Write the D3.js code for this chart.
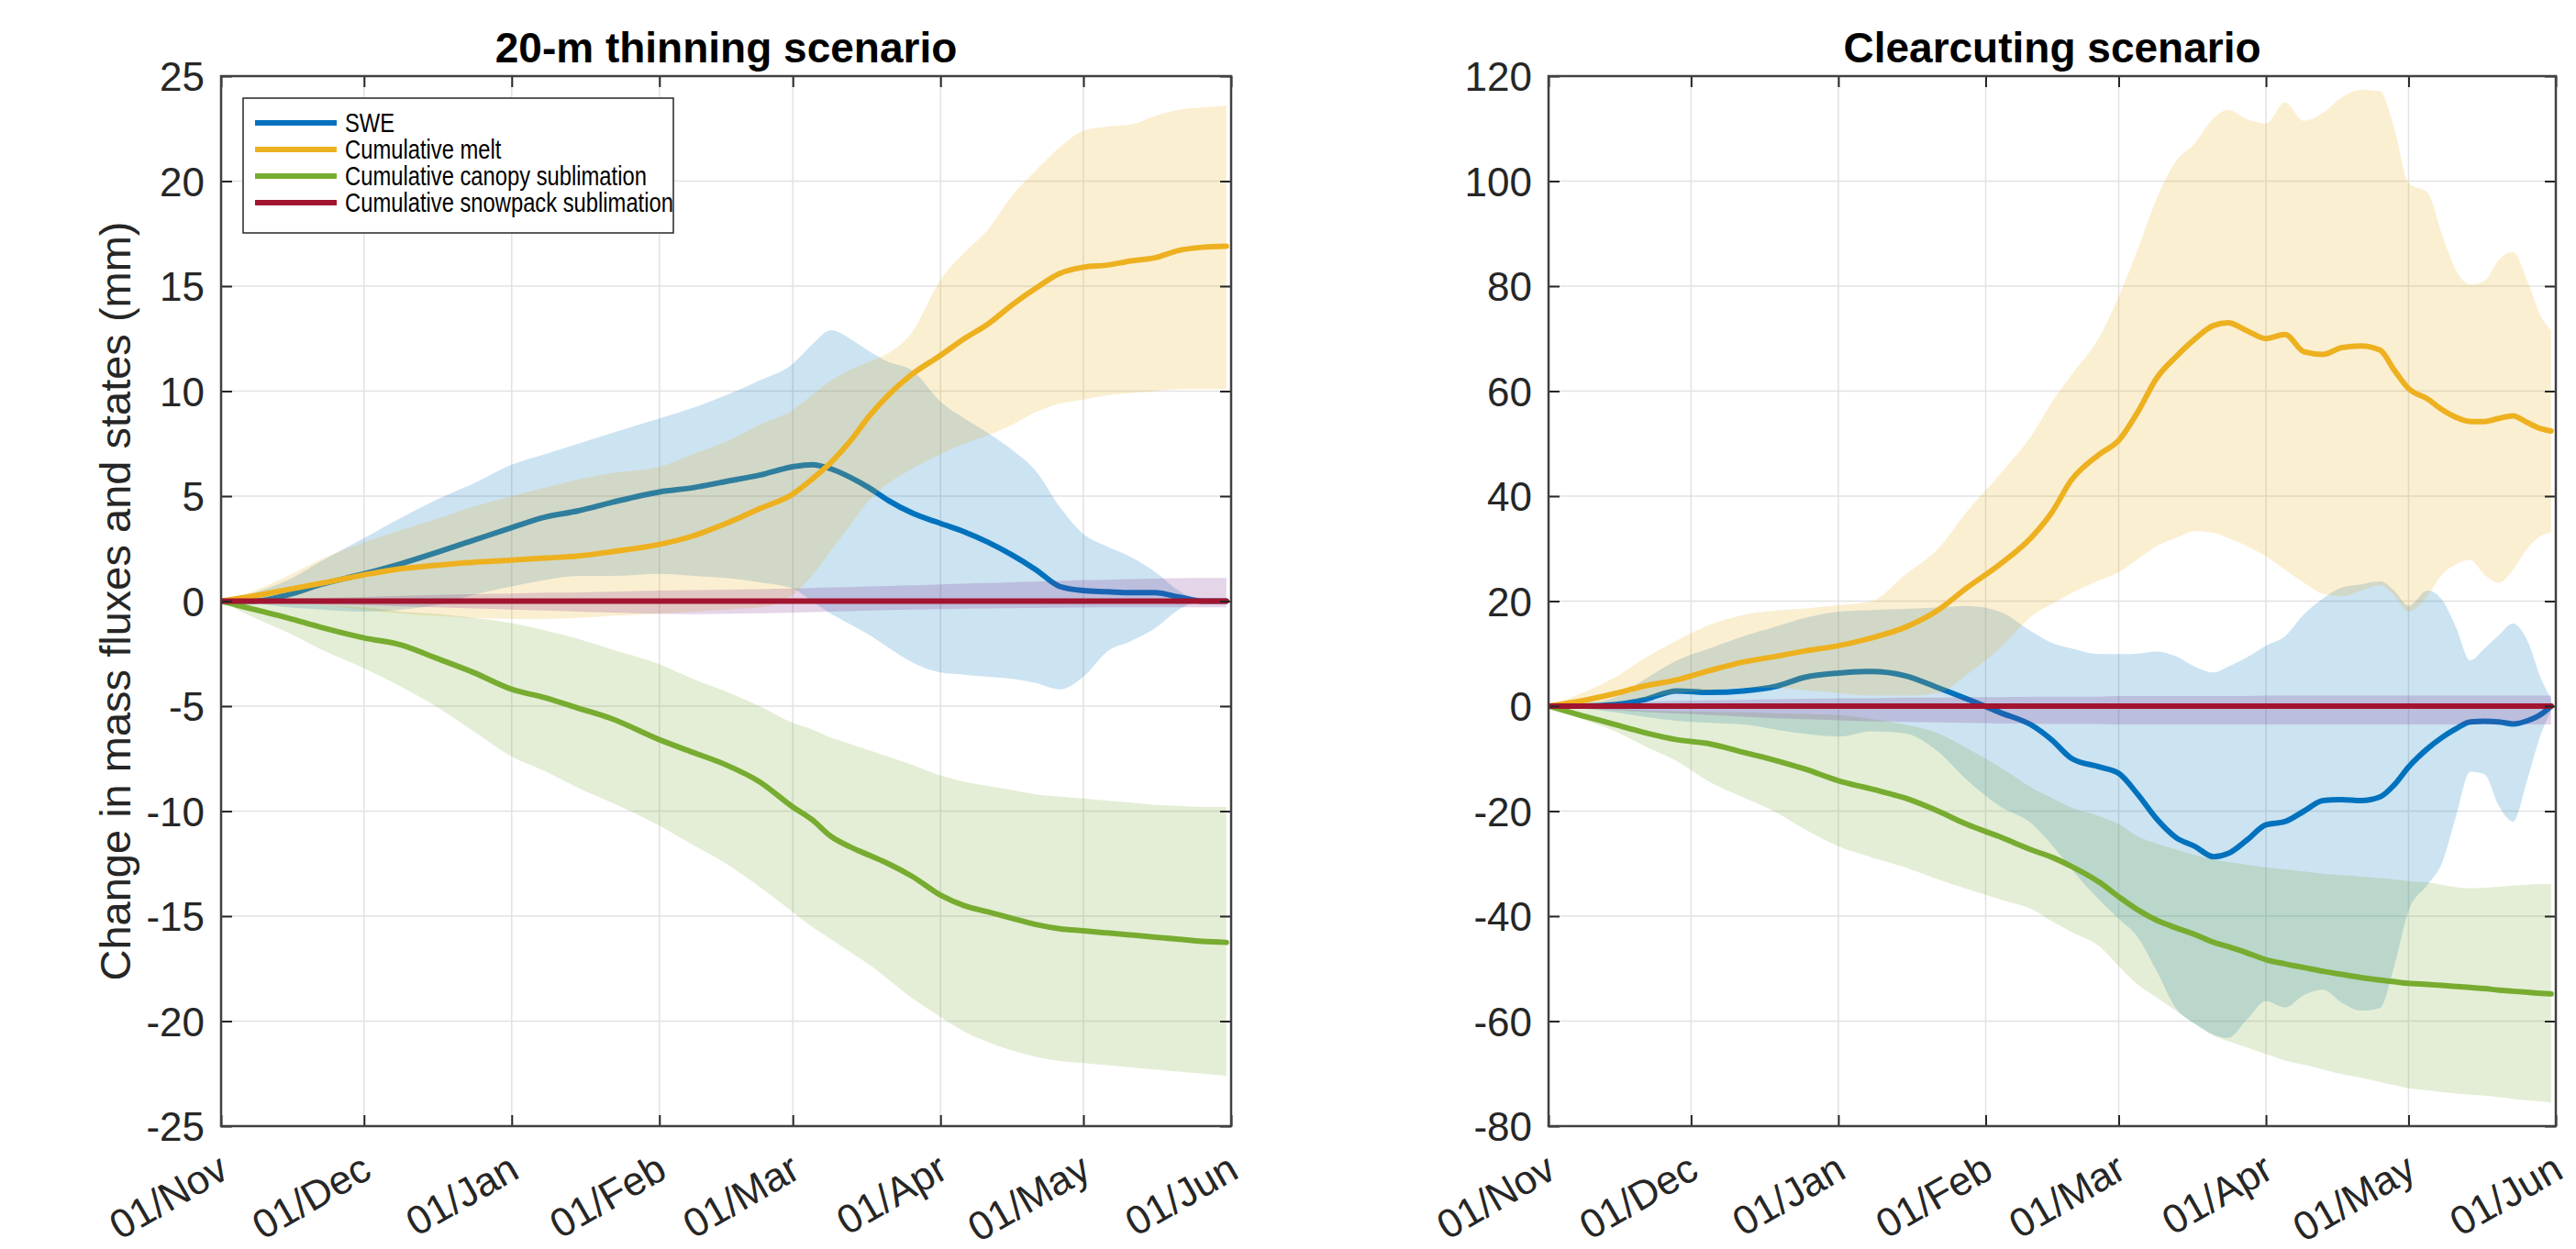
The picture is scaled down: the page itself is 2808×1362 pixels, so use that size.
<!DOCTYPE html>
<html>
<head>
<meta charset="utf-8">
<script src="https://cdn.jsdelivr.net/npm/d3@7"></script>
<style>
  html, body { margin: 0; padding: 0; background: #ffffff; }
  svg { display: block; font-family: "Liberation Sans", Arial, Helvetica, sans-serif; }
</style>
</head>
<body>
<svg id="chart" width="2808" height="1362"></svg>
<script>
// ---------------------------------------------------------------
// Series names, axis ticks
// ---------------------------------------------------------------
const seriesNames = ["SWE", "Cumulative melt", "Cumulative canopy sublimation", "Cumulative snowpack sublimation"];
const monthTickLabels = ["01/Nov", "01/Dec", "01/Jan", "01/Feb", "01/Mar", "01/Apr", "01/May", "01/Jun"];
const thinYTicks = [-25, -20, -15, -10, -5, 0, 5, 10, 15, 20, 25];
const clearYTicks = [-80, -60, -40, -20, 0, 20, 40, 60, 80, 100, 120];

// ---------------------------------------------------------------
// 20-m thinning scenario (days since 1 November; mean, lower and upper bound, mm)
// ---------------------------------------------------------------
const thinDays = [0, 7, 14, 21, 30, 38, 45, 53, 61, 68, 75, 82, 92, 99, 106, 113, 120, 124, 128, 132, 136, 140, 145, 151, 156, 161, 166, 171, 176, 181, 186, 191, 196, 201, 206, 211];

const thinSwe      = [0, 0, 0.3, 0.8, 1.3, 1.8, 2.3, 2.9, 3.5, 4.0, 4.3, 4.7, 5.2, 5.4, 5.7, 6.0, 6.4, 6.5, 6.3, 5.9, 5.4, 4.8, 4.2, 3.7, 3.3, 2.8, 2.2, 1.5, 0.7, 0.5, 0.45, 0.4, 0.4, 0.2, 0, 0];
const thinSweLow   = [0, -0.1, -0.3, -0.4, -0.5, -0.4, -0.2, 0.3, 0.7, 1.0, 1.2, 1.2, 1.3, 1.2, 1.1, 0.9, 0.6, 0, -0.6, -1.1, -1.6, -2.2, -2.9, -3.4, -3.5, -3.6, -3.7, -3.9, -4.2, -3.6, -2.4, -1.9, -1.3, -0.4, 0, 0];
const thinSweHigh  = [0, 0.4, 1.0, 1.9, 3.0, 4.0, 4.8, 5.6, 6.5, 7.0, 7.5, 8.0, 8.7, 9.2, 9.8, 10.5, 11.3, 12.2, 12.9, 12.5, 11.9, 11.4, 11.0, 9.5, 8.7, 8.0, 7.2, 6.2, 4.5, 3.2, 2.6, 2.1, 1.4, 0.5, 0, 0];

const thinMelt     = [0, 0.25, 0.55, 0.85, 1.25, 1.55, 1.7, 1.85, 1.95, 2.05, 2.15, 2.35, 2.7, 3.1, 3.7, 4.4, 5.1, 5.8, 6.6, 7.6, 8.8, 9.8, 10.8, 11.7, 12.5, 13.2, 14.1, 14.9, 15.6, 15.9, 16.0, 16.2, 16.35, 16.7, 16.85, 16.9];
const thinMeltLow  = [0, 0, -0.1, -0.2, -0.4, -0.6, -0.7, -0.8, -0.85, -0.85, -0.8, -0.7, -0.6, -0.5, -0.4, -0.3, 0.3, 1.2, 2.4, 3.6, 4.8, 5.6, 6.3, 7.0, 7.5, 7.9, 8.4, 9.0, 9.4, 9.6, 9.8, 9.9, 10.0, 10.1, 10.1, 10.1];
const thinMeltHigh = [0, 0.5, 1.2, 2.0, 2.8, 3.4, 3.9, 4.5, 5.0, 5.4, 5.8, 6.1, 6.4, 7.0, 7.6, 8.4, 9.1, 9.8, 10.5, 11.0, 11.4, 11.8, 12.8, 15.3, 16.6, 17.7, 19.3, 20.5, 21.6, 22.4, 22.6, 22.7, 23.1, 23.4, 23.5, 23.6];

const thinCanopy     = [0, -0.4, -0.8, -1.25, -1.75, -2.1, -2.7, -3.4, -4.2, -4.6, -5.1, -5.6, -6.6, -7.2, -7.8, -8.6, -9.8, -10.4, -11.2, -11.7, -12.1, -12.5, -13.1, -14.0, -14.5, -14.8, -15.1, -15.4, -15.6, -15.7, -15.8, -15.9, -16.0, -16.1, -16.2, -16.25];
const thinCanopyLow  = [0, -0.8, -1.5, -2.3, -3.2, -4.1, -5.0, -6.2, -7.4, -8.1, -8.9, -9.6, -10.7, -11.6, -12.5, -13.6, -14.8, -15.5, -16.1, -16.7, -17.3, -18.0, -18.9, -19.8, -20.5, -21.0, -21.4, -21.7, -21.9, -22.0, -22.1, -22.2, -22.3, -22.4, -22.5, -22.6];
const thinCanopyHigh = [0, 0, -0.1, -0.2, -0.3, -0.5, -0.6, -0.8, -1.05, -1.4, -1.8, -2.3, -3.0, -3.7, -4.3, -5.0, -5.8, -6.1, -6.5, -6.8, -7.1, -7.4, -7.8, -8.3, -8.6, -8.8, -9.0, -9.2, -9.3, -9.4, -9.5, -9.6, -9.7, -9.75, -9.8, -9.8];

const thinSnowpack     = [0, 0, 0, 0, 0, 0, 0, 0, 0, 0, 0, 0, 0, 0, 0, 0, 0, 0, 0, 0, 0, 0, 0, 0, 0, 0, 0, 0, 0, 0, 0, 0, 0, 0, 0, 0];
const thinSnowpackLow  = [0, -0.05, -0.1, -0.15, -0.2, -0.25, -0.3, -0.35, -0.4, -0.45, -0.5, -0.55, -0.6, -0.62, -0.6, -0.58, -0.55, -0.52, -0.5, -0.48, -0.45, -0.43, -0.4, -0.38, -0.36, -0.35, -0.34, -0.33, -0.32, -0.31, -0.3, -0.3, -0.3, -0.3, -0.3, -0.3];
const thinSnowpackHigh = [0, 0.05, 0.1, 0.15, 0.2, 0.25, 0.3, 0.33, 0.36, 0.4, 0.42, 0.45, 0.5, 0.52, 0.55, 0.57, 0.6, 0.62, 0.65, 0.67, 0.7, 0.72, 0.75, 0.8, 0.83, 0.86, 0.9, 0.93, 0.96, 1.0, 1.02, 1.05, 1.07, 1.09, 1.1, 1.1];

// ---------------------------------------------------------------
// Clearcutting scenario (days since 1 November; mean, lower and upper bound, mm)
// ---------------------------------------------------------------
const clearDays = [0, 7, 14, 20, 27, 34, 41, 48, 54, 61, 68, 75, 82, 88, 95, 102, 106, 110, 116, 120, 124, 128, 132, 136, 140, 143, 147, 151, 155, 159, 163, 167, 171, 175, 178, 181, 185, 188, 191, 194, 197, 200, 203, 206, 209, 211];

const clearSwe      = [0, 0, 0.3, 1.2, 2.9, 2.6, 2.9, 3.8, 5.5, 6.3, 6.6, 5.8, 3.5, 1.4, -1.2, -3.8, -6.5, -9.9, -11.6, -12.8, -16.8, -21.5, -25.0, -26.7, -28.7, -28.1, -25.5, -22.6, -22.0, -20.0, -18.0, -17.8, -18.0, -17.3, -15.0, -11.6, -8.1, -6.0, -4.3, -3.0, -2.9, -3.0, -3.4, -2.8, -1.5, 0];
const clearSweLow   = [0, -0.5, -1.2, -2.0, -2.8, -3.2, -3.5, -4.5, -5.3, -5.8, -4.8, -5.2, -8.7, -14.0, -19.1, -22.6, -26.5, -31.0, -37.0, -40.5, -44.0, -50.5, -57.5, -60.5, -62.6, -63.2, -59.7, -56.2, -57.4, -55.0, -54.0, -56.5, -58.0, -57.5, -49.5, -39.0, -34.0, -30.0, -21.0, -12.5, -13.0, -19.0, -22.0, -14.0, -5.0, -1.0];
const clearSweHigh  = [0, 0.5, 1.7, 5.0, 8.7, 11.0, 13.3, 15.2, 16.8, 18.0, 18.3, 18.5, 18.8, 19.1, 18.0, 14.0, 12.0, 11.0, 9.9, 9.9, 10.0, 10.4, 9.5, 7.5, 6.4, 7.5, 9.3, 11.5, 13.3, 17.5, 20.5, 22.6, 23.2, 23.8, 22.0, 19.1, 22.0, 20.3, 15.0, 8.7, 11.0, 13.5, 15.7, 12.5, 5.0, 1.5];

const clearMelt     = [0, 1.0, 2.4, 3.8, 5.0, 6.8, 8.4, 9.5, 10.5, 11.5, 13.0, 15.0, 18.3, 22.5, 27.0, 32.5, 37.0, 43.0, 48.0, 50.6, 56.0, 62.5, 66.5, 69.9, 72.5, 73.0, 71.5, 70.0, 70.8, 67.5, 67.0, 68.3, 68.6, 67.8, 64.0, 60.5, 58.5, 56.5, 55.0, 54.2, 54.2, 54.8, 55.3, 54.0, 52.8, 52.4];
const clearMeltLow  = [0, 0.3, 0.8, 1.5, 2.5, 3.0, 3.5, 3.5, 3.0, 2.5, 2.0, 2.0, 2.5, 6.0, 11.0, 17.4, 19.5, 21.5, 24.0, 25.5, 28.0, 30.5, 32.0, 33.3, 33.0, 32.0, 30.5, 28.5, 26.0, 23.5, 21.4, 20.9, 22.0, 23.0, 21.0, 18.0, 21.0, 25.0, 27.0, 27.8, 25.0, 23.5, 26.0, 30.0, 32.5, 33.0];
const clearMeltHigh = [0, 2.5, 5.5, 9.0, 12.5, 15.5, 17.4, 18.2, 18.6, 19.2, 20.0, 25.0, 30.0, 37.0, 44.2, 52.0, 58.0, 63.0, 70.4, 78.0, 87.0, 96.7, 103.7, 107.2, 112.0, 113.6, 111.8, 111.0, 115.0, 111.5, 113.0, 116.0, 117.4, 117.1, 110.0, 99.6, 97.8, 90.0, 83.0, 80.3, 81.0, 85.0, 86.5, 81.0, 74.0, 71.6];

const clearCanopy     = [0, -1.8, -3.5, -5.0, -6.4, -7.2, -8.8, -10.4, -12.0, -14.2, -15.8, -17.5, -20.0, -22.5, -24.9, -27.5, -28.8, -30.5, -33.6, -36.3, -38.8, -40.8, -42.2, -43.5, -45.0, -45.8, -47.0, -48.3, -49.1, -49.8, -50.5, -51.1, -51.7, -52.2, -52.5, -52.8, -53.0, -53.2, -53.4, -53.6, -53.8, -54.1, -54.3, -54.5, -54.7, -54.8];
const clearCanopyLow  = [0, -2.5, -4.8, -7.5, -10.5, -14.5, -17.4, -20.3, -23.5, -26.7, -28.8, -30.7, -33.0, -34.8, -36.8, -38.8, -41.0, -43.0, -45.8, -49.5, -53.0, -55.5, -58.0, -60.5, -62.8, -63.8, -65.0, -66.3, -67.5, -68.3, -69.2, -70.1, -70.8, -71.6, -72.2, -72.8, -73.2, -73.5, -73.8, -74.0, -74.2, -74.5, -74.8, -75.1, -75.3, -75.5];
const clearCanopyHigh = [0, -0.2, -0.5, -0.8, -1.0, -1.1, -1.2, -1.4, -1.5, -1.7, -2.5, -3.5, -5.2, -8.0, -11.6, -15.7, -17.5, -19.3, -21.0, -22.5, -24.8, -26.2, -27.3, -28.4, -29.2, -29.7, -30.2, -30.7, -31.1, -31.5, -31.9, -32.2, -32.5, -32.8, -33.0, -33.3, -33.6, -34.0, -34.5, -34.7, -34.6, -34.4, -34.2, -34.0, -33.9, -33.9];

const clearSnowpack     = [0, 0, 0, 0, 0, 0, 0, 0, 0, 0, 0, 0, 0, 0, 0, 0, 0, 0, 0, 0, 0, 0, 0, 0, 0, 0, 0, 0, 0, 0, 0, 0, 0, 0, 0, 0, 0, 0, 0, 0, 0, 0, 0, 0, 0, 0];
const clearSnowpackLow  = [0, -0.4, -0.8, -1.1, -1.4, -1.7, -2.0, -2.3, -2.5, -2.7, -2.9, -3.0, -3.1, -3.2, -3.3, -3.3, -3.4, -3.4, -3.4, -3.5, -3.5, -3.5, -3.5, -3.5, -3.5, -3.5, -3.5, -3.5, -3.5, -3.5, -3.5, -3.5, -3.5, -3.5, -3.5, -3.5, -3.5, -3.5, -3.5, -3.5, -3.5, -3.5, -3.5, -3.5, -3.5, -3.5];
const clearSnowpackHigh = [0, 0.3, 0.6, 0.8, 1.0, 1.1, 1.2, 1.3, 1.4, 1.5, 1.5, 1.6, 1.6, 1.7, 1.7, 1.8, 1.8, 1.8, 1.8, 1.9, 1.9, 1.9, 1.9, 1.9, 1.9, 1.9, 1.9, 2.0, 2.0, 2.0, 2.0, 2.0, 2.0, 2.0, 2.0, 2.0, 2.0, 2.0, 2.0, 2.0, 2.0, 2.0, 2.0, 2.0, 2.0, 2.0];

// ---------------------------------------------------------------
// Styling
// ---------------------------------------------------------------
const lineColors = ["#0072BD", "#EDB120", "#77AC30", "#A2142F"];
const bandColors = ["#0072BD", "#EDB120", "#77AC30", "#7E2F8E"];
const bandOpacity = 0.2;
const textColor = "#262626";
const gridColor = "#e2e2e2";
const tickFont = 44;

const svg = d3.select("#chart");
const seasonStart = Date.UTC(2018, 10, 1);
const dayToDate = d => new Date(seasonStart + d * 864e5);
const monthTicks = d3.utcMonth.range(dayToDate(0), dayToDate(213));

function drawPanel(cfg) {
  const { left, right, top, bottom } = cfg;
  const x = d3.scaleUtc().domain([dayToDate(0), dayToDate(212)]).range([left, right]);
  const y = d3.scaleLinear().domain([cfg.yTicks[0], cfg.yTicks[cfg.yTicks.length - 1]]).range([bottom, top]);
  const g = svg.append("g");

  const clipId = "clip-" + cfg.id;
  svg.append("clipPath").attr("id", clipId)
    .append("rect").attr("x", left).attr("y", top).attr("width", right - left).attr("height", bottom - top);

  // grid
  const grid = g.append("g").attr("stroke", gridColor).attr("stroke-width", 1.5);
  grid.selectAll("line.v").data(monthTicks.slice(1, -1)).join("line").attr("class", "v")
    .attr("x1", d => x(d)).attr("x2", d => x(d)).attr("y1", top).attr("y2", bottom);
  grid.selectAll("line.h").data(cfg.yTicks.slice(1, -1)).join("line").attr("class", "h")
    .attr("x1", left).attr("x2", right).attr("y1", d => y(d)).attr("y2", d => y(d));

  // bands and lines, each band followed by its own line
  const plot = g.append("g").attr("clip-path", `url(#${clipId})`);
  cfg.series.forEach((s, k) => {
    const rows = cfg.days.map((d, i) => ({ date: dayToDate(d), mean: s.mean[i], lo: s.lo[i], hi: s.hi[i] }));
    const area = d3.area().x(d => x(d.date)).y0(d => y(d.lo)).y1(d => y(d.hi)).curve(d3.curveMonotoneX);
    const line = d3.line().x(d => x(d.date)).y(d => y(d.mean)).curve(d3.curveMonotoneX);
    plot.append("path").datum(rows).attr("d", area)
      .attr("fill", bandColors[k]).attr("fill-opacity", bandOpacity).attr("stroke", "none");
    plot.append("path").datum(rows).attr("d", line)
      .attr("fill", "none").attr("stroke", lineColors[k]).attr("stroke-width", 6)
      .attr("stroke-linejoin", "round").attr("stroke-linecap", "round");
  });

  // axes (inward ticks on all four sides)
  const tickLen = 12;
  const styleAxis = sel => {
    sel.attr("font-size", null).attr("font-family", null).attr("color", textColor);
    sel.select(".domain").remove();
    sel.selectAll(".tick line").attr("stroke-width", 2);
  };
  const yAxisL = g.append("g").attr("transform", `translate(${left},0)`)
    .call(d3.axisLeft(y).tickValues(cfg.yTicks).tickSize(-tickLen).tickPadding(18).tickFormat(d => String(d)));
  styleAxis(yAxisL);
  yAxisL.selectAll("text").attr("font-size", tickFont).attr("fill", textColor).attr("dy", "0.36em");

  const yAxisR = g.append("g").attr("transform", `translate(${right},0)`)
    .call(d3.axisRight(y).tickValues(cfg.yTicks).tickSize(-tickLen).tickFormat(""));
  styleAxis(yAxisR);

  const xAxisB = g.append("g").attr("transform", `translate(0,${bottom})`)
    .call(d3.axisBottom(x).tickValues(monthTicks).tickSize(-tickLen).tickFormat((d, i) => monthTickLabels[i]));
  styleAxis(xAxisB);
  xAxisB.selectAll("text")
    .attr("x", 0).attr("y", 0).attr("dy", null)
    .attr("transform", "translate(10,55) rotate(-30)")
    .attr("text-anchor", "end").attr("font-size", tickFont).attr("fill", textColor);

  const xAxisT = g.append("g").attr("transform", `translate(0,${top})`)
    .call(d3.axisTop(x).tickValues(monthTicks).tickSize(-tickLen).tickFormat(""));
  styleAxis(xAxisT);

  // box
  g.append("rect").attr("x", left).attr("y", top).attr("width", right - left).attr("height", bottom - top)
    .attr("fill", "none").attr("stroke", "#404040").attr("stroke-width", 2.5);

  // title
  g.append("text").attr("x", (left + right) / 2).attr("y", 68)
    .attr("text-anchor", "middle").attr("font-size", 46).attr("font-weight", "bold").attr("fill", "#000")
    .text(cfg.title);

  if (cfg.yLabel) {
    g.append("text")
      .attr("transform", `translate(142,${(top + bottom) / 2}) rotate(-90)`)
      .attr("text-anchor", "middle").attr("font-size", 47).attr("fill", textColor)
      .text(cfg.yLabel);
  }

  if (cfg.legend) {
    const lg = g.append("g");
    const bx = left + 24, by = top + 24, bw = 469, bh = 147;
    lg.append("rect").attr("x", bx).attr("y", by).attr("width", bw).attr("height", bh)
      .attr("fill", "#fff").attr("stroke", "#262626").attr("stroke-width", 1.5);
    seriesNames.forEach((name, k) => {
      const ry = by + 27 + k * 29;
      lg.append("line").attr("x1", bx + 13).attr("x2", bx + 102).attr("y1", ry).attr("y2", ry)
        .attr("stroke", lineColors[k]).attr("stroke-width", 6);
      lg.append("text").attr("transform", `translate(${bx + 111},${ry}) scale(0.82,1)`)
        .attr("dy", "0.36em").attr("font-size", 29).attr("fill", "#000").text(name);
    });
  }
}

drawPanel({
  id: "thin", left: 241, right: 1342, top: 83, bottom: 1228,
  yTicks: thinYTicks, title: "20-m thinning scenario",
  yLabel: "Change in mass fluxes and states (mm)", legend: true,
  days: thinDays,
  series: [
    { mean: thinSwe, lo: thinSweLow, hi: thinSweHigh },
    { mean: thinMelt, lo: thinMeltLow, hi: thinMeltHigh },
    { mean: thinCanopy, lo: thinCanopyLow, hi: thinCanopyHigh },
    { mean: thinSnowpack, lo: thinSnowpackLow, hi: thinSnowpackHigh }
  ]
});

drawPanel({
  id: "clear", left: 1688, right: 2786, top: 83, bottom: 1228,
  yTicks: clearYTicks, title: "Clearcuting scenario",
  days: clearDays,
  series: [
    { mean: clearSwe, lo: clearSweLow, hi: clearSweHigh },
    { mean: clearMelt, lo: clearMeltLow, hi: clearMeltHigh },
    { mean: clearCanopy, lo: clearCanopyLow, hi: clearCanopyHigh },
    { mean: clearSnowpack, lo: clearSnowpackLow, hi: clearSnowpackHigh }
  ]
});
</script>
</body>
</html>
